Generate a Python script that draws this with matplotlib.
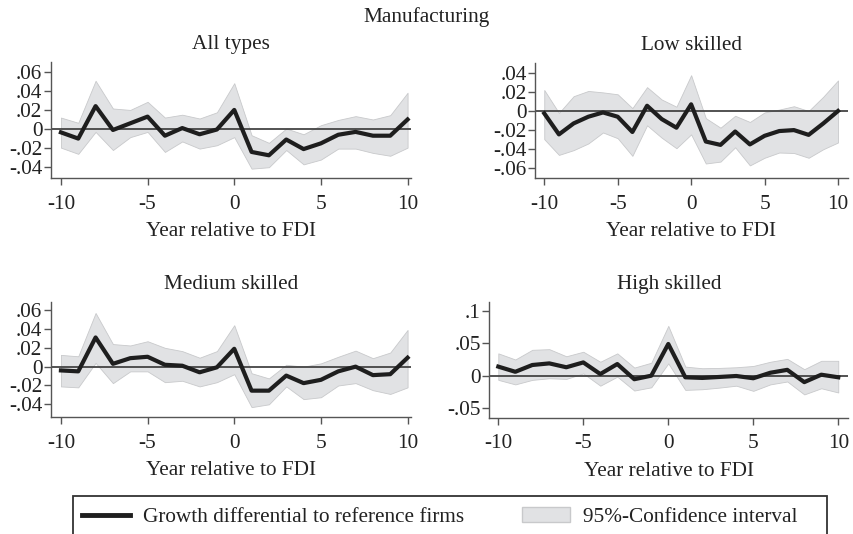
import matplotlib.pyplot as plt
from matplotlib.lines import Line2D
from matplotlib.patches import Patch, Rectangle

years = list(range(-10, 11))

# All types
all_est = [-0.0035, -0.010, 0.024, -0.001, 0.006, 0.013, -0.007, 0.001, -0.0055, -0.0005, 0.020,
           -0.024, -0.0275, -0.011, -0.021, -0.015, -0.006, -0.003, -0.007, -0.007, 0.010]
all_hi = [0.012, 0.0065, 0.0505, 0.0215, 0.020, 0.0285, 0.012, 0.015, 0.011, 0.0175, 0.048,
          -0.0065, -0.0145, 0.0005, -0.0055, 0.004, 0.0095, 0.0135, 0.010, 0.0145, 0.038]
all_lo = [-0.0195, -0.026, -0.003, -0.022, -0.0085, -0.003, -0.024, -0.013, -0.0205, -0.017, -0.0085,
          -0.0415, -0.040, -0.022, -0.037, -0.032, -0.0205, -0.0205, -0.025, -0.028, -0.0195]

# Low skilled
low_est = [-0.0025, -0.0245, -0.013, -0.006, -0.0015, -0.006, -0.022, 0.0055, -0.0085, -0.0175, 0.007,
           -0.032, -0.0355, -0.0215, -0.035, -0.026, -0.021, -0.020, -0.025, -0.013, 0.0]
low_hi = [0.022, -0.002, 0.0155, 0.021, 0.0195, 0.0175, 0.003, 0.025, 0.012, 0.0045, 0.0375,
          -0.0075, -0.0175, -0.005, -0.0115, -0.0015, 0.0015, 0.005, 0.0, 0.015, 0.032]
low_lo = [-0.0295, -0.046, -0.041, -0.034, -0.0225, -0.0285, -0.047, -0.015, -0.028, -0.039, -0.0245,
          -0.055, -0.053, -0.038, -0.057, -0.049, -0.0435, -0.044, -0.049, -0.040, -0.033]

# Medium skilled
med_est = [-0.004, -0.005, 0.031, 0.003, 0.009, 0.0105, 0.002, 0.001, -0.006, -0.0007, 0.019,
           -0.0255, -0.0255, -0.0095, -0.0175, -0.014, -0.005, 0.0, -0.009, -0.008, 0.0095]
med_hi = [0.0125, 0.011, 0.057, 0.024, 0.0225, 0.027, 0.020, 0.0165, 0.0095, 0.0165, 0.044,
          -0.007, -0.0125, 0.002, 0.0, 0.0035, 0.0105, 0.017, 0.009, 0.015, 0.039]
med_lo = [-0.021, -0.022, 0.004, -0.0175, -0.005, -0.005, -0.0165, -0.015, -0.021, -0.0165, -0.008,
          -0.043, -0.040, -0.021, -0.0345, -0.0325, -0.020, -0.0175, -0.025, -0.029, -0.022]

# High skilled
high_est = [0.014, 0.006, 0.0165, 0.019, 0.013, 0.0205, 0.0025, 0.018, -0.0055, 0.0, 0.049,
            -0.0025, -0.0035, -0.002, -0.0005, -0.004, 0.0045, 0.009, -0.010, 0.0015, -0.0025]
high_hi = [0.0345, 0.025, 0.040, 0.041, 0.030, 0.037, 0.0215, 0.0345, 0.0125, 0.020, 0.077,
           0.014, 0.0115, 0.012, 0.013, 0.015, 0.0215, 0.026, 0.010, 0.023, 0.023]
high_lo = [-0.0065, -0.0135, -0.0065, -0.004, -0.005, 0.0035, -0.0155, -0.0015, -0.023, -0.018, 0.019,
           -0.022, -0.021, -0.0185, -0.0155, -0.0235, -0.0135, -0.009, -0.029, -0.0195, -0.026]

W, H = 854, 534
plt.rcParams["font.family"] = ["Liberation Serif", "DejaVu Serif"]
txt = "#222222"
fs = 15.3

fig = plt.figure(figsize=(W / 100, H / 100), dpi=100)

def px_axes(left, top, right, bottom):
    return fig.add_axes([left / W, 1 - bottom / H, (right - left) / W, (bottom - top) / H])

panels = [
    ("All types", all_est, all_lo, all_hi, (50.7, 61.7, 410.7, 178.3),
     (-10.59, 10.18), (-0.0516, 0.0705), [-0.04, -0.02, 0, 0.02, 0.04, 0.06],
     ["-.04", "-.02", "0", ".02", ".04", ".06"]),
    ("Low skilled", low_est, low_lo, low_hi, (535, 62.7, 848, 178.3),
     (-10.63, 10.68), (-0.0705, 0.0506), [-0.06, -0.04, -0.02, 0, 0.02, 0.04],
     ["-.06", "-.04", "-.02", "0", ".02", ".04"]),
    ("Medium skilled", med_est, med_lo, med_hi, (50.7, 301.7, 410.7, 417.3),
     (-10.59, 10.18), (-0.0538, 0.069), [-0.04, -0.02, 0, 0.02, 0.04, 0.06],
     ["-.04", "-.02", "0", ".02", ".04", ".06"]),
    ("High skilled", high_est, high_lo, high_hi, (489.3, 301.7, 848.3, 417.7),
     (-10.53, 10.59), (-0.065, 0.1144), [-0.05, 0, 0.05, 0.1],
     ["-.05", "0", ".05", ".1"]),
]

for title, est, lo, hi, box, xl, yl, yt, ytl in panels:
    ax = px_axes(*box)
    ax.fill_between(years, lo, hi, color="#e1e2e4", edgecolor="#c8c9cb", lw=0.6, zorder=1)
    ax.axhline(0, color="#444444", lw=1.3, zorder=2)
    ax.plot(years, est, color="#1e1e1e", lw=3, zorder=3)
    ax.set_xlim(*xl)
    ax.set_ylim(*yl)
    ax.set_xticks([-10, -5, 0, 5, 10])
    ax.set_xticklabels(["-10", "-5", "0", "5", "10"])
    ax.set_yticks(yt)
    ax.set_yticklabels(ytl)
    for s in ["top", "right"]:
        ax.spines[s].set_visible(False)
    for s in ["left", "bottom"]:
        ax.spines[s].set_color("#555555")
        ax.spines[s].set_linewidth(1)
    ax.tick_params(axis="x", direction="out", length=5, width=1, color="#555555",
                   labelsize=fs, labelcolor=txt, pad=7)
    ax.tick_params(axis="y", direction="out", length=5, width=1, color="#555555",
                   labelsize=fs, labelcolor=txt, pad=1)
    ax.set_title(title, fontsize=fs, color=txt, pad=9)
    ax.set_xlabel("Year relative to FDI", fontsize=fs, color=txt, labelpad=6)

fig.text(0.5, 1 - 17 / H, "Manufacturing", ha="center", va="center", fontsize=fs, color=txt)

# legend: frame drawn separately (Stata-style box running off the bottom edge)
fig.add_artist(Rectangle((73 / W, -0.05), (827 - 73) / W, 0.05 + (534 - 496) / H,
                         transform=fig.transFigure, facecolor="white",
                         edgecolor="#333333", lw=1.3, zorder=0))
handles = [Line2D([0], [0], color="#1e1e1e", lw=3.5),
           Patch(facecolor="#e1e2e4", edgecolor="#c8c9cb")]
leg = fig.legend(handles, ["Growth differential to reference firms", "95%-Confidence interval"],
                 loc="center left", bbox_to_anchor=(82 / W, 1 - 517 / H), ncol=2,
                 fontsize=fs, frameon=False, handlelength=2.26,
                 handletextpad=0.6, columnspacing=2.73, borderpad=0, borderaxespad=0,
                 labelcolor=txt)
leg.set_zorder(5)

fig.savefig("out.png", dpi=100, facecolor="white")
